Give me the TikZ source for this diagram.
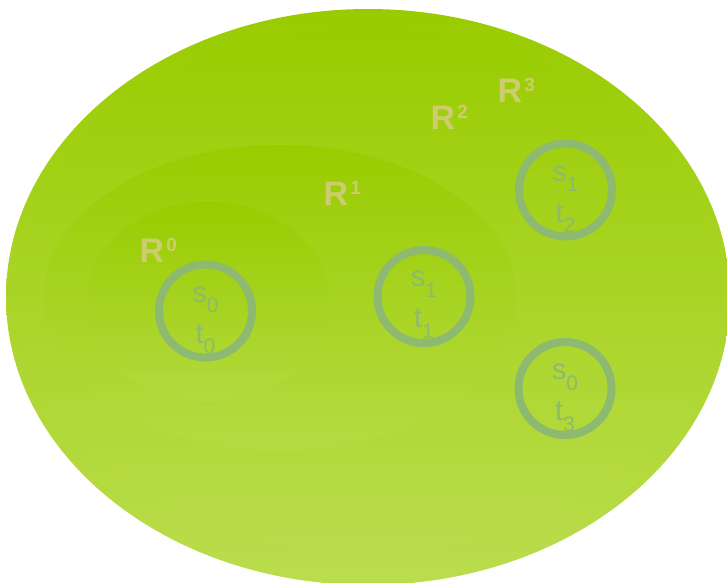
\documentclass[tikz,border=0pt]{standalone}
\usepackage{fontspec}
\setmainfont{Liberation Sans}
\usetikzlibrary{shapes.geometric}
\definecolor{gtop}{RGB}{153,204,0}
\definecolor{gbot}{RGB}{186,221,78}
\definecolor{rlab}{RGB}{206,204,112}
\definecolor{ringc}{RGB}{141,185,112}
\newcommand{\Rlab}[1]{\fontsize{34}{34}\selectfont\bfseries R\kern2pt\raisebox{10.5pt}{\fontsize{19}{19}\selectfont #1}}
\newcommand{\stsub}[2]{\fontsize{29}{29}\selectfont #1\raisebox{-10.5pt}{\fontsize{21}{21}\selectfont #2}}
\tikzset{
  region/.style={ellipse, inner sep=0pt, top color=gtop, draw=none},
  ringnode/.style={circle, draw=ringc, line width=8pt, minimum size=93pt, inner sep=0pt},
  rtext/.style={text=rlab, anchor=base west, inner sep=0pt},
  stext/.style={text=ringc, anchor=base, inner sep=0pt}
}
\begin{document}
\begin{tikzpicture}[x=1pt,y=-1pt]
\useasboundingbox (0,0) rectangle (727,582);
% regions
\node[region, bottom color=gbot, minimum width=724pt, minimum height=576pt] (R3) at (368,297) {};
\node[region, bottom color=gbot!97!gtop, minimum width=706pt, minimum height=524pt] (R2) at (368,290) {};
\node[region, bottom color=gbot!86!gtop, minimum width=473pt, minimum height=306pt] (R1) at (280,298) {};
\node[region, bottom color=gbot!80!gtop, minimum width=243pt, minimum height=200pt] (R0) at (208,302) {};
% region labels
\node[rtext] (l0) at (139.5,262) {\Rlab{0}};
\node[rtext] (l1) at (323.5,205) {\Rlab{1}};
\node[rtext] (l2) at (430.5,129) {\Rlab{2}};
\node[rtext] (l3) at (497.5,102) {\Rlab{3}};
% rings
\node[ringnode] (c0) at (205.5,311) {};
\node[ringnode] (c1) at (424,296.5) {};
\node[ringnode] (c2) at (565.5,190) {};
\node[ringnode] (c3) at (565,388.5) {};
% ring texts
\node[stext] (s0) at (205.5,302) {\stsub{s}{0}};
\node[stext] (t0) at (205.5,343) {\stsub{t}{0}};
\node[stext] (s1) at (424,286.5) {\stsub{s}{1}};
\node[stext] (t1) at (424,327.5) {\stsub{t}{1}};
\node[stext] (s2) at (565.5,181) {\stsub{s}{1}};
\node[stext] (t2) at (565.5,222) {\stsub{t}{2}};
\node[stext] (s3) at (565,379.5) {\stsub{s}{0}};
\node[stext] (t3) at (565,420.5) {\stsub{t}{3}};
\end{tikzpicture}
\end{document}
